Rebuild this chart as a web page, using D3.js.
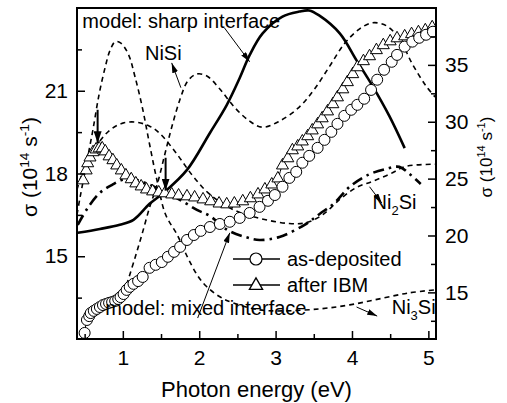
<!DOCTYPE html>
<html>
<head>
<meta charset="utf-8">
<script src="https://cdn.jsdelivr.net/npm/d3@7"></script>
<style>
  body { margin: 0; background: #fff; }
  svg { display: block; }
  text { font-family: "Liberation Sans", Arial, Helvetica, sans-serif; fill: #000; }
</style>
</head>
<body>
<div id="chart"></div>
<script>
/* Values: photon energy (eV) and sigma (10^14 s^-1) */

/* experiment, left axis */
var asDepE = [0.50,0.53,0.56,0.58,0.62,0.66,0.70,0.74,0.78,0.82,0.86,0.90,0.94,0.97,1.01,1.05,1.09,1.14,1.20,1.26,
              1.35,1.43,1.51,1.59,1.67,1.75,1.84,1.93,2.02,2.14,2.27,2.40,2.53,2.66,2.79,2.90,2.99,3.09,3.18,3.27,
              3.35,3.44,3.55,3.64,3.73,3.81,3.90,3.99,4.07,4.16,4.25,4.33,4.42,4.52,4.59,4.69,4.79,4.88,4.97,5.06];
var asDepS = [12.22,12.69,12.83,12.94,13.02,13.09,13.16,13.23,13.27,13.31,13.34,13.38,13.45,13.52,13.63,13.78,13.89,14.00,14.10,14.25,
              14.58,14.69,14.79,14.98,15.16,15.34,15.59,15.77,15.92,16.06,16.17,16.25,16.39,16.57,16.79,17.01,17.22,17.52,17.84,18.06,
              18.39,18.64,18.93,19.22,19.51,19.80,20.09,20.31,20.49,20.71,21.03,21.40,21.76,22.05,22.30,22.60,22.78,22.92,23.03,23.14];

var ibmE = [0.48,0.52,0.54,0.57,0.61,0.65,0.69,0.73,0.77,0.82,0.87,0.92,0.98,1.04,1.11,1.17,1.24,1.31,1.39,1.47,
            1.55,1.64,1.73,1.84,1.94,2.05,2.15,2.26,2.36,2.46,2.57,2.67,2.77,2.86,2.95,3.03,3.09,3.16,3.22,3.29,
            3.35,3.42,3.48,3.55,3.61,3.68,3.75,3.81,3.88,3.94,4.01,4.07,4.15,4.23,4.32,4.41,4.50,4.59,4.69,4.78,4.87,4.96,5.05];
var ibmS = [17.77,18.13,18.39,18.60,18.79,18.89,18.93,18.93,18.82,18.64,18.50,18.31,18.13,17.95,17.81,17.66,17.55,17.44,17.37,17.33,
            17.30,17.26,17.22,17.19,17.15,17.08,17.01,16.93,16.90,16.93,17.01,17.12,17.26,17.44,17.62,17.84,18.31,18.57,18.86,19.00,
            19.18,19.37,19.58,19.80,20.02,20.27,20.53,20.78,21.07,21.33,21.62,21.87,22.09,22.27,22.49,22.67,22.81,22.92,22.99,23.07,23.14,23.21,23.32];

/* interface models, left axis */
var sharpE = [0.41,0.70,0.96,1.14,1.35,1.55,1.84,2.14,2.36,2.53,2.66,2.83,3.09,3.31,3.44,3.57,3.84,4.06,4.27,4.49,4.69];
var sharpS = [15.85,15.99,16.14,16.32,16.90,17.34,18.13,19.47,20.48,21.46,22.29,23.08,23.69,23.87,23.91,23.73,23.08,22.10,21.17,20.08,18.92];

var mixedE = [0.41,0.54,0.70,0.86,1.00,1.16,1.33,1.55,1.77,1.97,2.14,2.37,2.60,2.79,3.05,3.38,3.58,3.77,3.97,4.21,4.45,4.62,4.75,4.90];
var mixedS = [16.14,16.75,17.30,17.59,17.77,17.77,17.62,17.33,17.01,16.68,16.46,15.95,15.70,15.59,15.70,16.14,16.54,16.93,17.52,17.95,18.17,18.24,17.99,17.62];

/* bulk silicides, right axis */
var nisiE = [1.05,1.16,1.25,1.35,1.45,1.55,1.64,1.75,1.85,1.97,2.10,2.27,2.46,2.66,2.83,3.05,3.31,3.51,3.71,3.90,4.10,4.27,4.45,4.62,4.79,4.97,5.09];
var nisiS = [15.67,18.05,20.08,22.46,24.49,27.14,29.52,32.00,33.58,34.20,34.02,32.88,31.29,30.05,29.52,30.05,31.29,32.88,34.91,36.85,38.17,38.70,38.44,37.29,35.08,33.14,32.17];

var ni2siE = [0.40,0.50,0.64,0.83,1.00,1.18,1.35,1.48,1.71,1.92,2.14,2.44,2.75,3.18,3.41,3.62,3.84,4.06,4.27,4.49,4.71,5.09];
var ni2siS = [24.05,26.00,27.76,29.26,29.88,29.96,29.61,29.00,27.14,25.20,23.61,22.29,21.58,21.05,21.14,21.84,23.17,24.23,24.76,25.38,26.08,26.26];

var ni3siE = [0.40,0.44,0.49,0.54,0.61,0.69,0.77,0.83,0.90,0.97,1.07,1.16,1.26,1.35,1.45,1.56,1.71,1.85,1.98,2.10,2.27,2.44,2.79,3.09,3.58,3.97,4.36,4.75,5.09];
var ni3siS = [21.84,23.35,25.11,26.88,29.35,32.44,34.82,36.23,37.03,36.94,35.97,33.94,31.11,28.02,24.76,21.84,20.08,18.05,16.46,15.49,14.61,14.08,13.46,13.37,13.55,13.90,14.43,14.96,15.22];

/* ticks */
var xTicks = [1, 2, 3, 4, 5];
var xMinor = [0.5, 1.5, 2.5, 3.5, 4.5];
var yLeftTicks = [15, 18, 21];
var yLeftMinor = [13.5, 16.5, 19.5, 22.5];
var yRightTicks = [15, 20, 25, 30, 35];
var yRightMinor = [12.5, 17.5, 22.5, 27.5, 32.5, 37.5];

/* size and margins */
var margin = {top: 8, right: 71, bottom: 64, left: 77},
    width = 507 - margin.left - margin.right,
    height = 403 - margin.top - margin.bottom;

var svg = d3.select("#chart").append("svg")
    .attr("width", 507).attr("height", 403);

var defs = svg.append("defs");
defs.append("marker").attr("id", "head")
    .attr("viewBox", "0 0 10 6").attr("refX", 10).attr("refY", 3)
    .attr("markerWidth", 10).attr("markerHeight", 6)
    .attr("markerUnits", "userSpaceOnUse").attr("orient", "auto")
  .append("path").attr("d", "M0,0 L10,3 L0,6 Z").attr("fill", "#000");
defs.append("marker").attr("id", "bighead")
    .attr("viewBox", "0 0 12 8").attr("refX", 12).attr("refY", 4)
    .attr("markerWidth", 12).attr("markerHeight", 8)
    .attr("markerUnits", "userSpaceOnUse").attr("orient", "auto")
  .append("path").attr("d", "M0,0 L12,4 L0,8 Z").attr("fill", "#000");

var g = svg.append("g").attr("transform", "translate(" + margin.left + "," + margin.top + ")");

var x = d3.scaleLinear().domain([0.4, 5.1]).range([0, width]);
var yL = d3.scaleLinear().domain([12, 24]).range([height, 0]);
var yR = d3.scaleLinear().domain([10.9, 40]).range([height, 0]);

g.append("clipPath").attr("id", "plot")
  .append("rect").attr("width", width).attr("height", height);

var plot = g.append("g").attr("clip-path", "url(#plot)");

function zip(e, s) { return e.map(function(d, i) { return [d, s[i]]; }); }

function curve(e, s, y, dash, w) {
    var line = d3.line()
        .x(function(d) { return x(d[0]); })
        .y(function(d) { return y(d[1]); })
        .curve(d3.curveCatmullRom);
    plot.append("path")
        .datum(zip(e, s))
        .attr("d", line)
        .attr("fill", "none")
        .attr("stroke", "#000")
        .attr("stroke-width", w)
        .attr("stroke-dasharray", dash);
}

/* model curves */
curve(ni3siE, ni3siS, yR, "5,4", 1.6);
curve(nisiE, nisiS, yR, "5,4", 1.6);
curve(ni2siE, ni2siS, yR, "5,4", 1.6);
curve(mixedE, mixedS, yL, "11,5,2.5,5", 2.6);
curve(sharpE, sharpS, yL, null, 2.6);

/* experiment: thin line plus open markers */
curve(asDepE, asDepS, yL, null, 1);
curve(ibmE, ibmS, yL, null, 1);

var tri = "M0,-6.5 L6,4 L-6,4 Z";

plot.selectAll(".ibm").data(zip(ibmE, ibmS)).enter()
    .append("path").attr("class", "ibm")
    .attr("d", tri)
    .attr("transform", function(d) { return "translate(" + x(d[0]) + "," + yL(d[1]) + ")"; })
    .attr("fill", "#fff").attr("stroke", "#000").attr("stroke-width", 1);

plot.selectAll(".dep").data(zip(asDepE, asDepS)).enter()
    .append("circle").attr("class", "dep")
    .attr("cx", function(d) { return x(d[0]); })
    .attr("cy", function(d) { return yL(d[1]); })
    .attr("r", 5.5)
    .attr("fill", "#fff").attr("stroke", "#000").attr("stroke-width", 1);

/* axes, ticks pointing inward */
function styleAxis(sel) {
    sel.select(".domain").remove();
    sel.attr("font-size", 21).attr("font-family", null);
    sel.selectAll("line").attr("stroke-width", 1.5);
}

g.append("g").attr("transform", "translate(0," + height + ")")
    .call(d3.axisBottom(x).tickValues(xTicks).tickSize(-8).tickPadding(11).tickFormat(d3.format("d")))
    .call(styleAxis);
g.append("g").attr("transform", "translate(0," + height + ")")
    .call(d3.axisBottom(x).tickValues(xMinor).tickSize(-5).tickFormat(""))
    .call(styleAxis);

g.append("g")
    .call(d3.axisLeft(yL).tickValues(yLeftTicks).tickSize(-8).tickPadding(9).tickFormat(d3.format("d")))
    .call(styleAxis);
g.append("g")
    .call(d3.axisLeft(yL).tickValues(yLeftMinor).tickSize(-5).tickFormat(""))
    .call(styleAxis);

g.append("g").attr("transform", "translate(" + width + ",0)")
    .call(d3.axisRight(yR).tickValues(yRightTicks).tickSize(-8).tickPadding(9).tickFormat(d3.format("d")))
    .call(styleAxis);
g.append("g").attr("transform", "translate(" + width + ",0)")
    .call(d3.axisRight(yR).tickValues(yRightMinor).tickSize(-5).tickFormat(""))
    .call(styleAxis);

g.append("rect")
    .attr("width", width).attr("height", height)
    .attr("fill", "none").attr("stroke", "#000").attr("stroke-width", 2);

/* axis titles */
svg.append("text")
    .attr("x", margin.left + width / 2).attr("y", 397)
    .attr("text-anchor", "middle").attr("font-size", 22)
    .text("Photon energy (eV)");

function sigmaLabel(tx, ty, size) {
    var t = svg.append("text")
        .attr("transform", "translate(" + tx + "," + ty + ") rotate(-90)")
        .attr("text-anchor", "middle").attr("font-size", size);
    t.append("tspan").text("\u03c3 (10");
    t.append("tspan").attr("dy", -size * 0.4).attr("font-size", size * 0.65).text("14");
    t.append("tspan").attr("dy", size * 0.4).text(" s");
    t.append("tspan").attr("dy", -size * 0.4).attr("font-size", size * 0.65).text("-1");
    t.append("tspan").attr("dy", size * 0.4).text(")");
}
sigmaLabel(37, 167, 21);
sigmaLabel(492, 157, 17);

/* legend */
var legend = svg.append("g").attr("transform", "translate(233,259)");
[["as-deposited", "circle"], ["after IBM", "tri"]].forEach(function(d, i) {
    var row = legend.append("g").attr("transform", "translate(0," + i * 26 + ")");
    row.append("line").attr("x1", 0).attr("x2", 47)
        .attr("stroke", "#000").attr("stroke-width", 1.5);
    if (d[1] == "circle") {
        row.append("circle").attr("cx", 23).attr("r", 6)
            .attr("fill", "#fff").attr("stroke", "#000").attr("stroke-width", 1.2);
    } else {
        row.append("path").attr("d", tri).attr("transform", "translate(23,0) scale(1.1)")
            .attr("fill", "#fff").attr("stroke", "#000").attr("stroke-width", 1.2);
    }
    row.append("text").attr("x", 54).attr("y", 7).attr("font-size", 20).text(d[0]);
});

/* annotations, placed in energy / left-axis units */
function label(e, s, parts) {
    var t = g.append("text")
        .attr("x", x(e)).attr("y", yL(s)).attr("font-size", 20);
    parts.forEach(function(p) {
        var ts = t.append("tspan").text(p[0]);
        if (p[1]) ts.attr("dy", p[1]);
        if (p[2]) ts.attr("font-size", p[2]);
    });
}
function arrow(e0, s0, e1, s1, big) {
    g.append("line")
        .attr("x1", x(e0)).attr("y1", yL(s0))
        .attr("x2", x(e1)).attr("y2", yL(s1))
        .attr("stroke", "#000").attr("stroke-width", big ? 2 : 1)
        .attr("marker-end", big ? "url(#bighead)" : "url(#head)");
}

label(0.47, 23.28, [["model: sharp interface"]]);
label(1.29, 22.12, [["NiSi"]]);
label(4.27, 16.71, [["Ni"], ["2", 6, 13], ["Si", -6]]);
label(4.52, 12.9, [["Ni"], ["3", 6, 13], ["Si", -6]]);
label(0.77, 12.87, [["model: mixed interface"]]);

arrow(2.33, 23.28, 2.66, 22.05);
arrow(1.76, 21.11, 1.64, 22.01);
arrow(4.23, 17.52, 4.39, 16.93);
arrow(4.06, 13.16, 4.33, 12.83);
arrow(1.98, 12.76, 2.40, 15.85);
arrow(0.67, 20.31, 0.67, 19.10, true);
arrow(1.56, 18.57, 1.56, 17.38, true);
</script>
</body>
</html>
